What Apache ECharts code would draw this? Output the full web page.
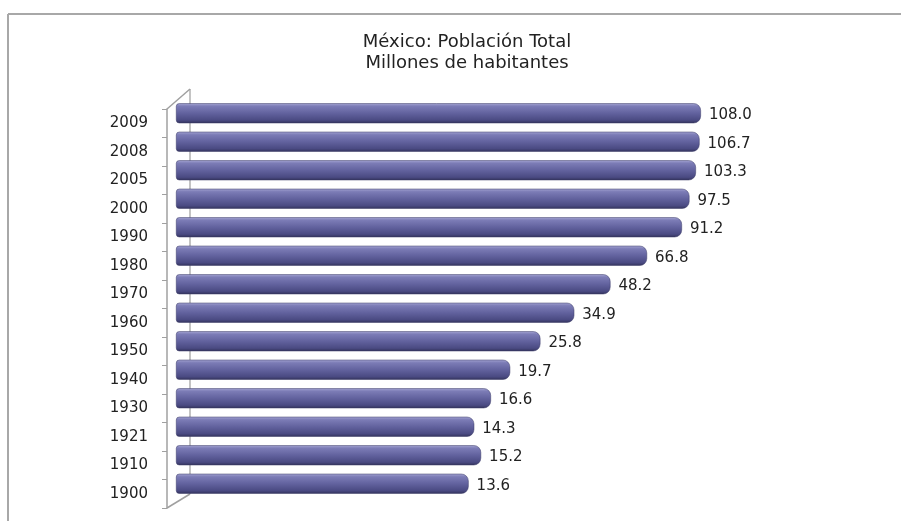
<!DOCTYPE html>
<html>
<head>
<meta charset="utf-8">
<script src="https://cdn.jsdelivr.net/npm/echarts@6/dist/echarts.min.js"></script>
<style>html,body{margin:0;padding:0;background:#fff}#c{width:901px;height:521px}</style>
</head>
<body>
<div id="c"></div>
<script>
var titleText = 'México: Población Total\nMillones de habitantes';
var years = ['2009','2008','2005','2000','1990','1980','1970','1960','1950','1940','1930','1921','1910','1900'];
var population = [108.0, 106.7, 103.3, 97.5, 91.2, 66.8, 48.2, 34.9, 25.8, 19.7, 16.6, 14.3, 15.2, 13.6];

var chart = echarts.init(document.getElementById('c'), null, {renderer: 'canvas'});
var FONT = 'DejaVu Sans';
var barGrad = new echarts.graphic.LinearGradient(0, 0, 0, 1, [
  {offset: 0, color: '#a4a4d2'},
  {offset: 0.15, color: '#7c7cb6'},
  {offset: 0.5, color: '#62629e'},
  {offset: 0.85, color: '#4a4a82'},
  {offset: 1, color: '#32325a'}
]);
chart.setOption({
  animation: false,
  backgroundColor: '#ffffff',
  title: {
    text: titleText,
    left: 467, top: 32, textAlign: 'center', padding: 0,
    textStyle: {fontFamily: FONT, fontSize: 18, fontWeight: 'normal', color: '#222222', lineHeight: 21}
  },
  grid: [
    {left: 176, top: 99, height: 399, right: 131},
    {left: 167, top: 109, height: 399, right: 131}
  ],
  xAxis: [
    {gridIndex: 0, type: 'log', logBase: 10, min: 1, max: 200, show: false},
    {gridIndex: 1, type: 'value', min: 0, max: 1, show: false}
  ],
  yAxis: [
    {gridIndex: 0, type: 'category', data: years, inverse: true, show: false},
    {gridIndex: 1, type: 'category', data: years, inverse: true,
     axisLine: {show: true, lineStyle: {color: '#a0a0a0', width: 1.5}},
     axisTick: {show: true, length: 5, lineStyle: {color: '#a0a0a0', width: 1}},
     axisLabel: {margin: 19, fontFamily: FONT, fontSize: 15, color: '#222222'},
     splitLine: {show: false}}
  ],
  graphic: [
    {type: 'line', z: 0, shape: {x1: 8, y1: 14, x2: 901, y2: 14}, style: {stroke: '#a8a8a8', lineWidth: 2}},
    {type: 'line', z: 0, shape: {x1: 8, y1: 14, x2: 8, y2: 521}, style: {stroke: '#a8a8a8', lineWidth: 2}},
    {type: 'line', z: 0, shape: {x1: 190, y1: 89, x2: 190, y2: 494}, style: {stroke: '#b0b0b0', lineWidth: 1.5}},
    {type: 'line', z: 0, shape: {x1: 167, y1: 109, x2: 190, y2: 89}, style: {stroke: '#a0a0a0', lineWidth: 1.5}},
    {type: 'line', z: 0, shape: {x1: 167, y1: 508, x2: 190, y2: 494}, style: {stroke: '#a0a0a0', lineWidth: 1.5}}
  ],
  series: [{
    type: 'bar',
    xAxisIndex: 0, yAxisIndex: 0,
    data: population,
    barWidth: 20,
    clip: true,
    itemStyle: {color: barGrad, borderRadius: [3, 7, 7, 3], borderColor: '#3a3a66', borderWidth: 0.5},
    label: {
      show: true, position: 'right', distance: 8, offset: [0, 2],
      fontFamily: FONT, fontSize: 15, color: '#222222',
      formatter: function (p) { return p.value.toFixed(1); }
    }
  }]
});
</script>
</body>
</html>
